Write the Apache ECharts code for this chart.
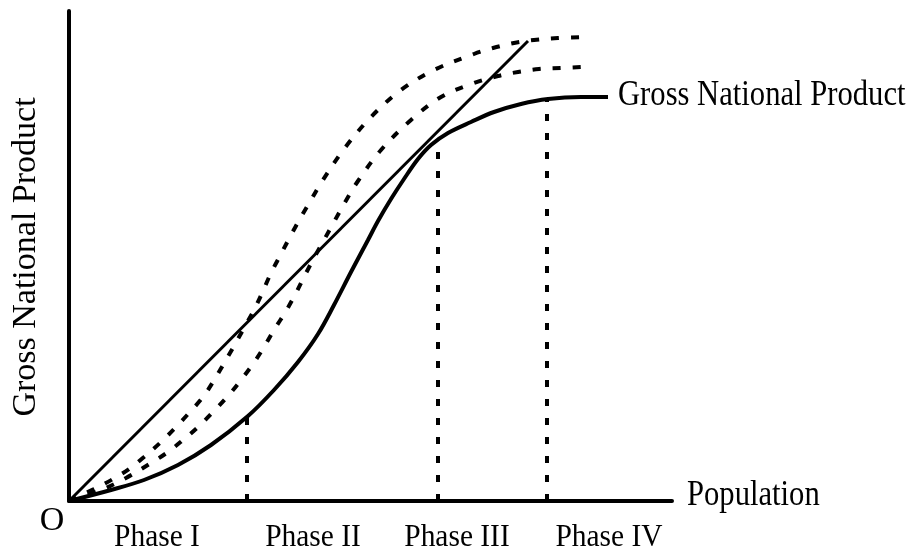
<!DOCTYPE html>
<html>
<head>
<meta charset="utf-8">
<script src="https://cdn.jsdelivr.net/npm/echarts@6/dist/echarts.min.js"></script>
<style>
  html, body { margin: 0; padding: 0; background: #fff; }
  #chart { width: 911px; height: 552px; }
</style>
</head>
<body>
<div id="chart"></div>
<script>
var gnpCurve = [[0,0],[42,11],[75,21],[109,36],[142,56],[179,85],[205,111],[229,139],[249,167],[265,196],
    [282,229],[299,261],[309,280],[322,302],[335,322],[349,342],[362,356],[379,368],[402,379],[425,389],
    [452,397],[479,402],[512,404],[539,404]];
var upperDashed = [[0,0],[25,12],[44,22],[60,32],[75,44],[92,59],[107,74],[120,88],[134,104],[144,119],
    [154,136],[165,155],[175,173],[185,191],[194,210],[202,228],[212,247],[222,266],[232,284],[242,301],
    [252,318],[275,352],[302,384],[332,411],[365,431],[405,447],[424,453],[445,458],[465,461],[489,463],[515,464]];
var lowerDashed = [[0,0],[32,11],[57,23],[82,38],[99,49],[114,61],[129,74],[144,89],[159,105],[172,121],
    [184,137],[195,154],[205,171],[217,190],[227,208],[235,224],[245,243],[255,261],[265,279],[275,297],
    [289,320],[312,351],[342,381],[372,404],[405,418],[429,425],[449,429],[470,432],[492,433],[512,434]];
var straightLine = [[0,0],[459,460]];
// phase boundaries: x position and top of the dashed marker
var phaseBounds = [[178,84],[369,349],[478,401]];
var phaseLabels = ['Phase I', 'Phase II', 'Phase III', 'Phase IV'];

var chart = echarts.init(document.getElementById('chart'));
var serif = '"Liberation Serif", "Times New Roman", serif';

var series = [
    {
        type: 'line', data: straightLine, symbol: 'none', clip: false,
        lineStyle: { color: '#000', width: 3 }
    },
    {
        type: 'line', data: gnpCurve, symbol: 'none', clip: false, smooth: 0.35,
        lineStyle: { color: '#000', width: 4 }
    },
    {
        type: 'line', data: upperDashed, symbol: 'none', clip: false, smooth: 0.35,
        lineStyle: { color: '#000', width: 4, type: [8, 12] }
    },
    {
        type: 'line', data: lowerDashed, symbol: 'none', clip: false, smooth: 0.35,
        lineStyle: { color: '#000', width: 4, type: [8, 12] }
    }
];
phaseBounds.forEach(function (b) {
    series.push({
        type: 'line', data: [[b[0], 0], [b[0], b[1]]], symbol: 'none', clip: false,
        lineStyle: { color: '#000', width: 4, type: [7, 12] }
    });
});

function txt(s, x, y, size, sx, align, rot) {
    return {
        type: 'text', x: x, y: y, scaleX: sx, rotation: rot || 0,
        style: {
            text: s, fill: '#000', fontSize: size, fontFamily: serif,
            font: size + 'px ' + serif,
            align: align, textAlign: align,
            verticalAlign: 'middle', textVerticalAlign: 'middle'
        }
    };
}

var phaseX = [157, 313, 457, 609];
var graphics = [
    txt('Gross National Product', 26, 257, 34, 1, 'center', Math.PI / 2),
    txt('Gross National Product', 618, 96, 35, 0.875, 'left'),
    txt('Population', 687, 496, 35, 0.875, 'left'),
    txt('O', 52, 521, 34, 1, 'center')
];
phaseLabels.forEach(function (p, i) {
    graphics.push(txt(p, phaseX[i], 538, 32, 0.92, 'center'));
});

chart.setOption({
    animation: false,
    backgroundColor: '#fff',
    grid: { left: 69, top: 11, width: 603, height: 490 },
    xAxis: {
        type: 'value', min: 0, max: 603,
        axisLine: { show: true, lineStyle: { color: '#000', width: 4 } },
        axisTick: { show: false }, axisLabel: { show: false }, splitLine: { show: false }
    },
    yAxis: {
        type: 'value', min: 0, max: 490,
        axisLine: { show: true, lineStyle: { color: '#000', width: 4 } },
        axisTick: { show: false }, axisLabel: { show: false }, splitLine: { show: false }
    },
    series: series,
    graphic: graphics
});
</script>
</body>
</html>
